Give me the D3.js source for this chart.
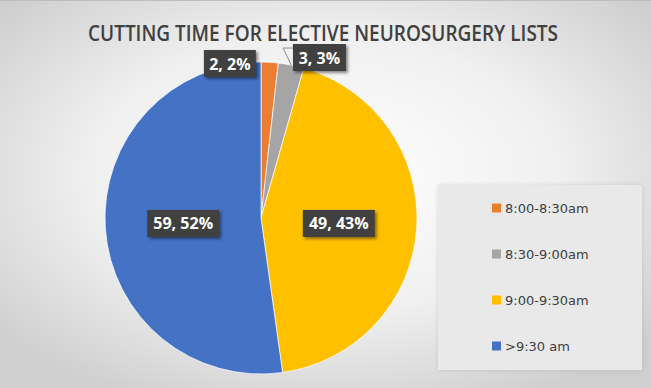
<!DOCTYPE html>
<html>
<head>
<meta charset="utf-8">
<script src="https://cdn.jsdelivr.net/npm/d3@7/dist/d3.min.js"></script>
<style>
  body { margin: 0; padding: 0; background: #fff; }
  svg { display: block; }
</style>
</head>
<body>
<div id="chart"></div>
<script>
// data
var categories = ["8:00-8:30am", "8:30-9:00am", "9:00-9:30am", ">9:30 am"];
var counts = [2, 3, 49, 59];
var percents = ["2%", "3%", "43%", "52%"];
var colors = ["#ED7D31", "#A5A5A5", "#FFC000", "#4472C4"];
var title = "CUTTING TIME FOR ELECTIVE NEUROSURGERY LISTS";

var width = 651, height = 388;
var cx = 261, cy = 218, radius = 156;

var svg = d3.select("#chart").append("svg")
    .attr("width", width)
    .attr("height", height);

var defs = svg.append("defs");
var bg = defs.append("radialGradient")
    .attr("id", "bg")
    .attr("cx", "50%").attr("cy", "45%").attr("r", "65%");
bg.append("stop").attr("offset", "0%").attr("stop-color", "#ffffff");
bg.append("stop").attr("offset", "55%").attr("stop-color", "#f0f0f0");
bg.append("stop").attr("offset", "100%").attr("stop-color", "#cfcfcf");

var sh = defs.append("filter").attr("id", "shadow")
    .attr("x", "-20%").attr("y", "-20%").attr("width", "150%").attr("height", "160%");
sh.append("feDropShadow").attr("dx", 2).attr("dy", 2).attr("stdDeviation", 1.5)
    .attr("flood-color", "#000").attr("flood-opacity", 0.45);

var legSh = defs.append("filter").attr("id", "legshadow")
    .attr("x", "-10%").attr("y", "-10%").attr("width", "120%").attr("height", "120%");
legSh.append("feDropShadow").attr("dx", 0).attr("dy", 0).attr("stdDeviation", 2)
    .attr("flood-color", "#000").attr("flood-opacity", 0.12);

// background
svg.append("rect")
    .attr("width", width).attr("height", height)
    .attr("fill", "url(#bg)");
svg.append("line")
    .attr("x1", 0).attr("x2", width).attr("y1", 0.5).attr("y2", 0.5)
    .attr("stroke", "#bdbdbd");

// title
svg.append("text")
    .attr("x", 323).attr("y", 41)
    .attr("text-anchor", "middle")
    .attr("textLength", 470)
    .attr("lengthAdjust", "spacingAndGlyphs")
    .style("font-family", "'Open Sans', sans-serif")
    .style("font-size", "21px")
    .style("font-weight", "600")
    .style("fill", "#404040")
    .text(title);

// pie
var pie = d3.pie().sort(null).value(d => d);
var arcs = pie(counts);
var arc = d3.arc().innerRadius(0).outerRadius(radius);
var edge = d3.arc().innerRadius(radius).outerRadius(radius);
var outer = d3.arc().innerRadius(radius + 4).outerRadius(radius + 4);

var g = svg.append("g").attr("transform", "translate(" + cx + "," + cy + ")");

g.selectAll(".slice")
    .data(arcs)
    .enter()
    .append("path")
    .attr("class", "slice")
    .attr("d", arc)
    .attr("fill", (d, i) => colors[i])
    .attr("stroke", "#ffffff")
    .attr("stroke-width", 0.7);

// data labels
var boxW = [52, 53, 72, 72], boxH = 27;
function labelBox(d, i) {
    var p;
    if (i == 0) {
        p = outer.centroid(d);
        return { x: p[0] - 14 - boxW[i], y: -168 };
    }
    if (i == 1) {
        p = outer.centroid(d);
        return { x: p[0] + 1, y: -174 };
    }
    p = arc.centroid(d);
    return { x: p[0] - boxW[i] / 2, y: p[1] - boxH / 2 };
}

// leader for the gray slice
var ep = edge.centroid(arcs[1]);
var lb = labelBox(arcs[1], 1);
g.append("path")
    .attr("d", "M" + ep[0] + "," + ep[1] + " L" + (ep[0] - 8) + "," + (lb.y + 4) + " L" + lb.x + "," + (lb.y + 4))
    .attr("fill", "none")
    .attr("stroke", "#8c8c8c")
    .attr("stroke-width", 1);

var labels = g.selectAll(".lbl")
    .data(arcs)
    .enter()
    .append("g")
    .attr("class", "lbl")
    .attr("transform", function (d, i) {
        var b = labelBox(d, i);
        return "translate(" + b.x + "," + b.y + ")";
    });

labels.append("rect")
    .attr("width", (d, i) => boxW[i])
    .attr("height", boxH)
    .attr("fill", "#404040")
    .attr("filter", "url(#shadow)");

labels.append("text")
    .attr("x", (d, i) => boxW[i] / 2)
    .attr("y", boxH / 2 + 6)
    .attr("text-anchor", "middle")
    .style("font-family", "'Open Sans', sans-serif")
    .style("font-size", "16px")
    .style("font-weight", "bold")
    .style("fill", "#ffffff")
    .text((d, i) => counts[i] + ", " + percents[i]);

// legend
var legend = svg.append("g").attr("transform", "translate(438,185)");
legend.append("rect")
    .attr("width", 204).attr("height", 185)
    .attr("fill", "#e9e9e9")
    .attr("filter", "url(#legshadow)");

var rowY = d3.scalePoint().domain(categories).range([23, 161]);

var items = legend.selectAll(".item")
    .data(categories)
    .enter()
    .append("g")
    .attr("class", "item")
    .attr("transform", d => "translate(0," + rowY(d) + ")");

items.append("rect")
    .attr("x", 54).attr("y", -4.5)
    .attr("width", 9).attr("height", 9)
    .attr("fill", (d, i) => colors[i]);

items.append("text")
    .attr("x", 67).attr("y", 5)
    .style("font-family", "'DejaVu Sans', sans-serif")
    .style("font-size", "13px")
    .style("fill", "#404040")
    .text(d => d);
</script>
</body>
</html>
